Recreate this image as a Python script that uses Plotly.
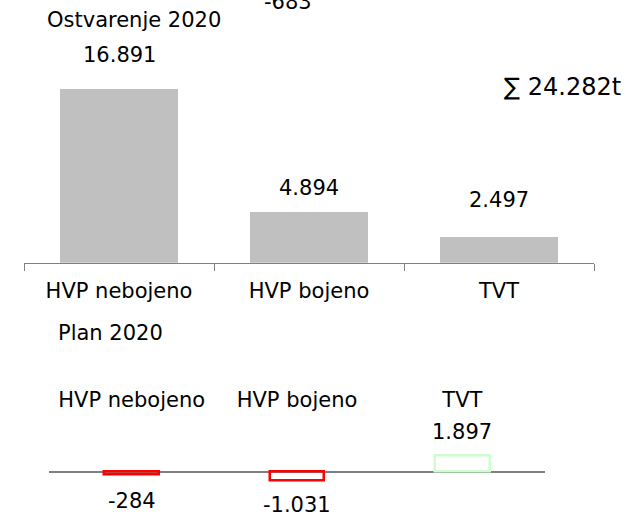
import plotly.graph_objects as go

# ---- data ----
categories = ["HVP nebojeno", "HVP bojeno", "TVT"]
actual_2020 = [16891, 4894, 2497]
actual_labels = ["16.891", "4.894", "2.497"]
plan_diff = [-284, -1031, 1897]
plan_labels = ["-284", "-1.031", "1.897"]
top_title = "Ostvarenje 2020"
bottom_title = "Plan 2020"
total_label = "∑ 24.282t"
extra_label = "-683"

# ---- style ----
W, H = 628, 515
FONT = "DejaVu Sans"
FS = 21
GRAY = "#808080"
actual_shift = [34, 24, 37]
plan_shift = [-26.5, -25, 24]


def py(p):
    return 1 - p / H


fig = go.Figure()
fig.add_trace(go.Bar(
    x=categories, y=actual_2020, width=0.626,
    marker=dict(color="#c0c0c0", line=dict(width=0)),
    xaxis="x", yaxis="y", showlegend=False, hoverinfo="skip"))

diff_colors = ["#ff0000" if v < 0 else "#ccffcc" for v in plan_diff]
fig.add_trace(go.Bar(
    x=categories, y=plan_diff, width=0.33,
    marker=dict(color="rgba(255,255,255,0)", line=dict(color=diff_colors, width=2.5)),
    xaxis="x2", yaxis="y2", showlegend=False, hoverinfo="skip"))

annotations = []
for c, v, t, s in zip(categories, actual_2020, actual_labels, actual_shift):
    annotations.append(dict(x=c, y=v, xref="x", yref="y", text=t, showarrow=False,
                            yanchor="middle", yshift=s, font=dict(size=FS)))
for c, v, t, s in zip(categories, plan_diff, plan_labels, plan_shift):
    annotations.append(dict(x=c, y=v, xref="x2", yref="y2", text=t, showarrow=False,
                            yanchor="middle", yshift=s, font=dict(size=FS)))
annotations += [
    dict(x=133.5 / W, y=py(19.8), xref="paper", yref="paper", text=top_title,
         showarrow=False, xanchor="center", yanchor="middle", font=dict(size=FS)),
    dict(x=111 / W, y=py(332.7), xref="paper", yref="paper", text=bottom_title,
         showarrow=False, xanchor="center", yanchor="middle", font=dict(size=FS)),
    dict(x=562 / W, y=py(86.7), xref="paper", yref="paper", text=total_label,
         showarrow=False, xanchor="center", yanchor="middle", font=dict(size=24)),
    dict(x=287.5 / W, y=py(1.7), xref="paper", yref="paper", text=extra_label,
         showarrow=False, xanchor="center", yanchor="middle", font=dict(size=FS)),
]

top_base = 262.7
scale_top = 0.010266
bot_zero = 471.7
bot_top = 412.5
scale_bot = 0.0085

fig.update_layout(
    width=W, height=H,
    margin=dict(l=0, r=0, t=0, b=0),
    paper_bgcolor="white", plot_bgcolor="white",
    font=dict(family=FONT, size=FS, color="black"),
    bargap=0,
    xaxis=dict(domain=[24 / W, 594 / W], type="category", range=[-0.5, 2.5],
               anchor="y", showline=True, linecolor=GRAY, linewidth=1,
               ticks="outside", ticklen=7, tickcolor=GRAY, tickson="boundaries",
               ticklabelstandoff=9,
               showgrid=False, zeroline=False, tickfont=dict(size=FS)),
    yaxis=dict(domain=[py(top_base), 1], range=[0, top_base / scale_top],
               visible=False),
    xaxis2=dict(domain=[49 / W, 545 / W], type="category", range=[-0.5, 2.5],
                anchor="y2", side="top", showline=False, ticks="",
                showgrid=False, zeroline=False, tickfont=dict(size=FS)),
    yaxis2=dict(domain=[0, py(bot_top)],
                range=[-(H - bot_zero) / scale_bot, (bot_zero - bot_top) / scale_bot],
                showgrid=False, showticklabels=False, ticks="",
                zeroline=True, zerolinecolor=GRAY, zerolinewidth=1.5, showline=False),
    annotations=annotations,
)

fig.write_html("out.html", config={"displayModeBar": False},
               post_script="document.body.style.margin='0';document.body.style.overflow='hidden';")
